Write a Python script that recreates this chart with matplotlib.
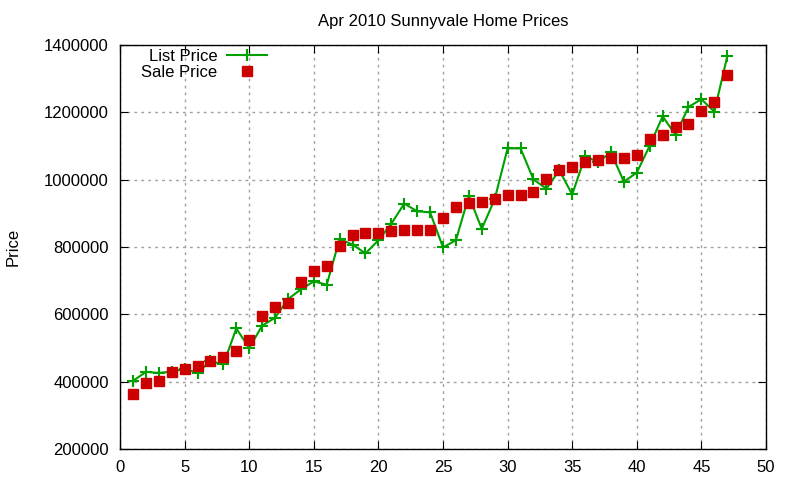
import numpy as np
import matplotlib
matplotlib.use("Agg")
import matplotlib.pyplot as plt

plt.rcParams['font.family'] = ['Liberation Sans', 'DejaVu Sans']

# listing index 1..47
idx = list(range(1, 48))
list_price = [402000, 429000, 426000, 430000, 438000, 426000, 461000, 451000, 558000, 500000,
              566000, 590000, 645000, 674000, 698000, 688000, 824000, 807000, 781000, 820000,
              869000, 929000, 906000, 903000, 799000, 820000, 952000, 854000, 942000, 1093000,
              1093000, 1001000, 973000, 1028000, 956000, 1069000, 1053000, 1081000, 994000, 1021000,
              1101000, 1188000, 1133000, 1216000, 1239000, 1202000, 1366000]
sale_price = [364000, 396000, 402000, 430000, 438000, 446000, 461000, 472000, 490000, 525000,
              596000, 621000, 634000, 695000, 728000, 743000, 802000, 837000, 843000, 843000,
              847000, 852000, 852000, 852000, 887000, 919000, 931000, 934000, 942000, 955000,
              955000, 963000, 1002000, 1028000, 1037000, 1052000, 1058000, 1064000, 1064000, 1072000,
              1122000, 1134000, 1157000, 1166000, 1205000, 1231000, 1310000]

fig = plt.figure(figsize=(8, 4.8), dpi=100)
ax = fig.add_axes([0.15, 0.0646, 0.8075, 0.8416])

ax.plot(idx, list_price, color='#00a000', lw=1.5, marker='+', ms=8, mew=1.5, label='List Price')
ax.plot(idx, sale_price, ls='none', color='#cc0000', marker='s', ms=6.5, label='Sale Price')

ax.set_xlim(0, 50)
ax.set_ylim(200000, 1400000)
ax.set_xticks(np.arange(0, 51, 5))
ax.set_yticks(np.arange(200000, 1400001, 200000))
ax.set_yticklabels([str(v) for v in range(200000, 1400001, 200000)])
ax.grid(True, color='#a0a0a0', ls=(0, (2, 3)), lw=1)
ax.tick_params(direction='in', top=True, right=True, length=6, labelsize=12, pad=8)
for s in ax.spines.values():
    s.set_linewidth(1)

ax.set_title('Apr 2010 Sunnyvale Home Prices', fontsize=12, pad=14)
ax.set_ylabel('Price', fontsize=12, labelpad=17)

ax.legend(loc='upper left', bbox_to_anchor=(0.02, 1.012), frameon=False, markerfirst=False,
          fontsize=12, handlelength=2.4, borderaxespad=0.1, labelspacing=0.08, handletextpad=0.6)

fig.savefig('out.png', dpi=100)
